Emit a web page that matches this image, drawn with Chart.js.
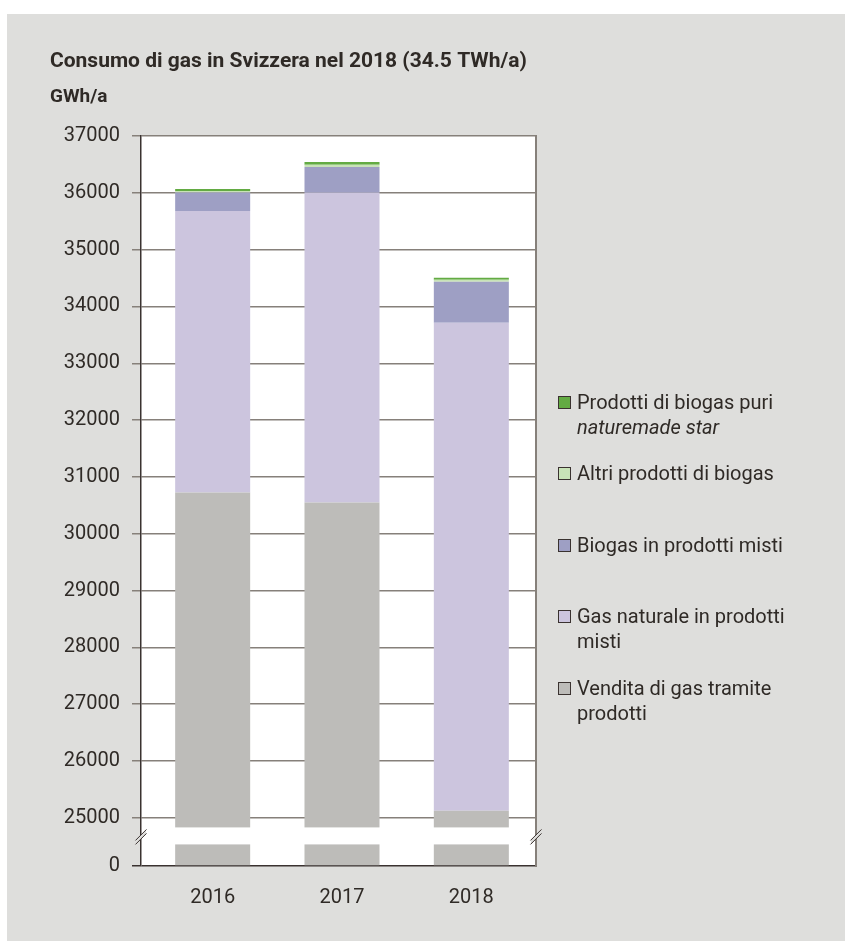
<!DOCTYPE html>
<html>
<head>
<meta charset="utf-8">
<script src="https://cdn.jsdelivr.net/npm/chart.js@4.4.1/dist/chart.umd.min.js"></script>
<style>
  html, body { margin: 0; padding: 0; background: #ffffff; }
  #panel { position: absolute; left: 7px; top: 14px; width: 838px; height: 927px; background: #dededc; }
  #chart { position: absolute; left: 0; top: 0; }
  #legend { position: absolute; left: 0; top: 0; font-family: Roboto, sans-serif; font-size: 20px; color: #2f2a26; }
  .li { position: absolute; line-height: 25px; white-space: nowrap; }
  .sw { position: absolute; width: 11px; height: 11px; border: 1px solid #3a3230; }
  .tx { position: absolute; }
</style>
</head>
<body>
<div id="panel">
  <canvas id="chart" width="838" height="927"></canvas>
  <div id="legend"></div>
</div>
<script>
// ---- data ----
const categories = ['2016', '2017', '2018'];
const venditaProdotti = [30726, 30550, 25125];
const gasNaturaleMisti = [4956, 5450, 8589];
const biogasMisti = [322, 455, 720];
const altriBiogas = [29, 41, 35];
const biogasPuri = [36, 47, 35];
const yTickValues = [0, 25000, 26000, 27000, 28000, 29000, 30000, 31000, 32000, 33000, 34000, 35000, 36000, 37000];

const seriesNames = [
  'Vendita di gas tramite prodotti',
  'Gas naturale in prodotti misti',
  'Biogas in prodotti misti',
  'Altri prodotti di biogas',
  'Prodotti di biogas puri naturemade star'
];
const seriesValues = [venditaProdotti, gasNaturaleMisti, biogasMisti, altriBiogas, biogasPuri];
const seriesColors = ['#bdbcb9', '#ccc5de', '#9e9fc4', '#c8e3b7', '#63ab43'];
const legendLines = [
  ['Vendita di gas tramite', 'prodotti'],
  ['Gas naturale in prodotti', 'misti'],
  ['Biogas in prodotti misti'],
  ['Altri prodotti di biogas'],
  ['Prodotti di biogas puri', '<i>naturemade star</i>']
];

const chartTitle = 'Consumo di gas in Svizzera nel 2018 (34.5 TWh/a)';
const unitLabel = 'GWh/a';

// axis break configuration (value range hidden between the two segments)
const axisBreak = { low: 380, high: 24830, gapPx: 17 };

const FONT = 'Roboto, sans-serif';
const TEXT = '#2f2a26';
const AXIS = '#3a3230';
const GRID = '#86807a';
const PANEL = '#dededc';

// ---- broken linear scale ----
class BrokenLinearScale extends Chart.LinearScale {
  static id = 'brokenLinear';
  static defaults = Chart.LinearScale.defaults;
  buildTicks() {
    return yTickValues.map(v => ({ value: v }));
  }
  _k() {
    const span = (this.bottom - this.top) - axisBreak.gapPx;
    return span / ((this.max - axisBreak.high) + (axisBreak.low - this.min));
  }
  getPixelForValue(value) {
    if (value === null || value === undefined || isNaN(value)) return NaN;
    const k = this._k();
    if (value >= axisBreak.high) return this.top + (this.max - value) * k;
    if (value <= axisBreak.low) return this.bottom - (value - this.min) * k;
    const t = (value - axisBreak.low) / (axisBreak.high - axisBreak.low);
    return this.bottom - (axisBreak.low - this.min) * k - t * axisBreak.gapPx;
  }
  getValueForPixel(pixel) {
    const k = this._k();
    const pHigh = this.top + (this.max - axisBreak.high) * k;
    const pLow = this.bottom - (axisBreak.low - this.min) * k;
    if (pixel <= pHigh) return this.max - (pixel - this.top) / k;
    if (pixel >= pLow) return this.min + (this.bottom - pixel) / k;
    const t = (pLow - pixel) / axisBreak.gapPx;
    return axisBreak.low + t * (axisBreak.high - axisBreak.low);
  }
}

class ShiftedCategoryScale extends Chart.CategoryScale {
  static id = 'shiftedCategory';
  static defaults = Chart.CategoryScale.defaults;
  configure() {
    super.configure();
    const s = 7;
    this._startPixel += s;
    this._length -= s;
  }
}
Chart.register(BrokenLinearScale, ShiftedCategoryScale);

const plotBgPlugin = {
  id: 'plotBg',
  beforeDraw(chart) {
    const { ctx, chartArea: a } = chart;
    ctx.save();
    ctx.fillStyle = '#ffffff';
    ctx.fillRect(a.left, a.top, a.right - a.left, a.bottom - a.top);
    ctx.restore();
  }
};

const breakPlugin = {
  id: 'axisBreakMarks',
  afterDatasetsDraw(chart) {
    const { ctx, chartArea: a, scales: { y } } = chart;
    const yTop = y.getPixelForValue(axisBreak.high);
    const yBot = y.getPixelForValue(axisBreak.low);
    ctx.save();
    ctx.fillStyle = '#ffffff';
    ctx.fillRect(a.left + 1, yTop, a.right - a.left - 1, yBot - yTop);
    ctx.strokeStyle = GRID;
    ctx.lineWidth = 2;
    ctx.beginPath();
    ctx.moveTo(a.right, a.top - 1);
    ctx.lineTo(a.right, a.bottom + 1);
    ctx.stroke();
    const ym = (yTop + yBot) / 2 + 1;
    [a.left, a.right].forEach(x => {
      ctx.fillStyle = PANEL;
      ctx.beginPath();
      ctx.moveTo(x - 5, ym + 7);
      ctx.lineTo(x + 5, ym - 3);
      ctx.lineTo(x + 5, ym - 7);
      ctx.lineTo(x - 5, ym + 3);
      ctx.closePath();
      ctx.fill();
      ctx.strokeStyle = AXIS;
      ctx.lineWidth = 1;
      ctx.beginPath();
      ctx.moveTo(x - 5.5, ym + 7.5); ctx.lineTo(x + 5.5, ym - 3.5);
      ctx.moveTo(x - 5.5, ym + 3.5); ctx.lineTo(x + 5.5, ym - 7.5);
      ctx.stroke();
    });
    ctx.restore();
  }
};

const datasets = seriesNames.map((name, i) => ({
  label: name,
  data: seriesValues[i],
  backgroundColor: seriesColors[i],
  borderWidth: 0,
  barPercentage: 0.58,
  categoryPercentage: 1.0
}));

new Chart(document.getElementById('chart'), {
  type: 'bar',
  data: { labels: categories, datasets },
  options: {
    responsive: false,
    animation: false,
    devicePixelRatio: 1,
    layout: { padding: { left: 43, right: 309, top: 0, bottom: 11 } },
    plugins: {
      legend: { display: false },
      tooltip: { enabled: false },
      title: {
        display: true, text: chartTitle, align: 'start', color: TEXT,
        font: { family: FONT, size: 21, weight: 'bold' },
        padding: { top: 35.4, bottom: 0 }
      },
      subtitle: {
        display: true, text: unitLabel, align: 'start', color: TEXT,
        font: { family: FONT, size: 19, weight: 'bold' },
        padding: { top: 11, bottom: 27.6 }
      }
    },
    scales: {
      x: {
        type: 'shiftedCategory',
        stacked: true,
        grid: { display: false, drawTicks: false },
        border: { display: false },
        ticks: { color: TEXT, font: { family: FONT, size: 20 }, padding: 20 }
      },
      y: {
        type: 'brokenLinear',
        stacked: true,
        min: 0,
        max: 37000,
        afterFit: s => { s.width = 91; },
        border: { display: true, color: AXIS, width: 1.5 },
        grid: {
          lineWidth: 1.5,
          tickLength: 9,
          color: c => (c.tick && c.tick.value === 0) ? AXIS : GRID,
          tickColor: c => (c.tick && c.tick.value === 0) ? AXIS : GRID
        },
        ticks: {
          autoSkip: false, padding: 12, color: TEXT,
          font: { family: FONT, size: 20 },
          callback: v => String(v)
        }
      }
    }
  },
  plugins: [plotBgPlugin, breakPlugin]
});

// ---- HTML legend (top-to-bottom: reverse of stack order) ----
const legendEl = document.getElementById('legend');
const order = [4, 3, 2, 1, 0];
order.forEach((si, row) => {
  const top = 389.5 - 14 + row * 71.5;
  const item = document.createElement('div');
  item.className = 'li';
  item.style.left = (558 - 7) + 'px';
  item.style.top = top + 'px';
  const sw = document.createElement('div');
  sw.className = 'sw';
  sw.style.background = seriesColors[si];
  sw.style.left = '0px';
  sw.style.top = '6px';
  const tx = document.createElement('div');
  tx.className = 'tx';
  tx.style.left = '19px';
  tx.style.top = '0px';
  tx.innerHTML = legendLines[si].join('<br>');
  item.appendChild(sw);
  item.appendChild(tx);
  legendEl.appendChild(item);
});
</script>
</body>
</html>
